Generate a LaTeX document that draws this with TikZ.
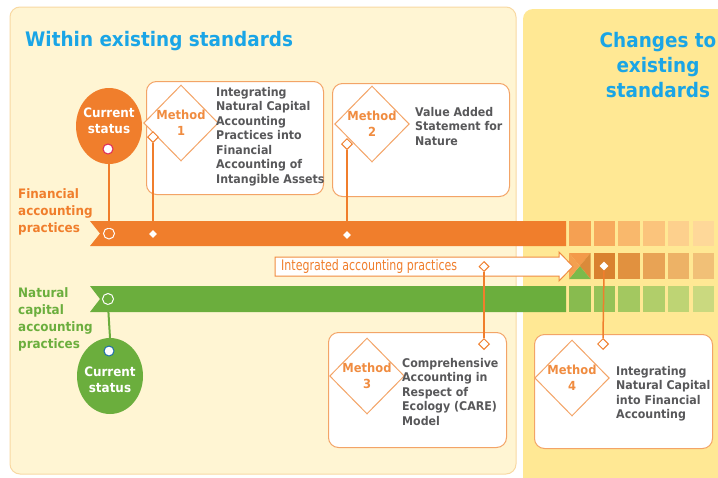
\documentclass[tikz,border=0pt]{standalone}
\usepackage{fontspec}
\setmainfont{DejaVu Sans}
\newfontfamily\boldfont[FakeStretch=0.92]{DejaVu Sans Bold}
\newfontfamily\narrowfont[FakeStretch=0.76]{DejaVu Sans}
\usetikzlibrary{shapes.geometric,positioning}

\definecolor{titleblue}{HTML}{1AA5E6}
\definecolor{barorange}{HTML}{F07E2C}
\definecolor{bargreen}{HTML}{6BAE3D}
\definecolor{methodorange}{HTML}{F08C40}
\definecolor{boxline}{HTML}{F3A467}
\definecolor{greytext}{HTML}{58585A}
\definecolor{creampanel}{HTML}{FFF5D3}
\definecolor{creamline}{HTML}{F8D9A3}
\definecolor{yellowpanel}{HTML}{FFE894}
\definecolor{darksquare}{HTML}{D9822F}

\begin{document}
\begin{tikzpicture}[x=1pt,y=-1pt,
  methodbox/.style={draw=boxline, line width=1pt, fill=white, rounded corners=10pt, anchor=north west, inner sep=0pt},
  methoddiamond/.style={diamond, draw=boxline, line width=1pt, fill=white, minimum width=64pt, minimum height=76pt,
    inner sep=0pt, text=methodorange, font=\boldfont\fontsize{12.5}{16}\selectfont, align=center},
  methodtext/.style={text=greytext, font=\boldfont\fontsize{12}{14.5}\selectfont, align=left, anchor=north west, inner sep=0pt},
  pindiamond/.style={diamond, draw=barorange, fill=white, line width=1pt, minimum size=11pt, inner sep=0pt},
  bardot/.style={diamond, fill=white, minimum size=8pt, inner sep=0pt},
  barring/.style={circle, draw=white, line width=1pt, minimum size=11pt, inner sep=0pt},
  status/.style={ellipse, minimum width=66pt, minimum height=76pt, inner sep=0pt},
  statustext/.style={text=white, font=\boldfont\fontsize{13}{16}\selectfont, align=center, inner sep=0pt},
  rowlabel/.style={anchor=north west, align=left, font=\boldfont\fontsize{13}{17}\selectfont, inner sep=0pt},
  headline/.style={text=titleblue, font=\boldfont\fontsize{20}{25}\selectfont, inner sep=0pt}]
  \useasboundingbox (0,0) rectangle (718,477);
  \clip (0,0) rectangle (718,477);
  \fill[white] (0,0) rectangle (718,477);

  % the two panels
  \draw[fill=creampanel, draw=creamline, line width=1pt, rounded corners=10pt] (10,7) rectangle (516,474);
  \fill[yellowpanel, rounded corners=10pt] (523,9) rectangle (740,500);
  \node[headline, anchor=base west] (within) at (25,46) {Within existing standards};
  \node[headline, anchor=north, align=center] (changes) at (658,32) {Changes to\\existing\\standards};

  % bars
  \fill[barorange] (90,221) -- (566,221) -- (566,246) -- (90,246) -- (100,233.5) -- cycle;
  \fill[bargreen] (90,286) -- (566,286) -- (566,312) -- (90,312) -- (100,299) -- cycle;
  \foreach \i/\c in {0/F5A052,1/F7AA5D,2/F9B86C,3/FBC47C,4/FDD08D,5/FED899}{
    \definecolor{sq}{HTML}{\c}
    \fill[sq] ({569+24.7*\i},221) rectangle +(21.5,25);
  }
  \foreach \i/\c in {1/D9822F,2/E1913F,3/E8A355,4/EDB266,5/F1C077}{
    \definecolor{sq}{HTML}{\c}
    \fill[sq] ({569+24.7*\i},253) rectangle +(21.5,26);
  }
  \foreach \i/\c in {0/88BB4F,1/96C257,2/A3C860,3/B1CE6A,4/BED474,5/CAD97F}{
    \definecolor{sq}{HTML}{\c}
    \fill[sq] ({569+24.7*\i},286) rectangle +(21.5,26);
  }
  \fill[fill={rgb,255:red,243;green,154;blue,74}] (569,253) -- (590.5,253) -- (579.75,266) -- cycle;
  \fill[fill={rgb,255:red,218;green,138;blue,58}] (590.5,253) -- (590.5,279) -- (579.75,266) -- cycle;
  \fill[fill={rgb,255:red,123;green,186;blue,75}] (569,279) -- (590.5,279) -- (579.75,266) -- cycle;
  \fill[fill={rgb,255:red,243;green,160;blue,80}] (569,253) -- (569,279) -- (579.75,266) -- cycle;

  % arrow
  \draw[draw=methodorange, fill=white, line width=1pt] (275,257) -- (559,257) -- (559,252) -- (573,266.5)
    -- (559,281) -- (559,276) -- (275,276) -- cycle;
  \node[anchor=west, text=barorange, font=\narrowfont\fontsize{14.5}{16}\selectfont, inner sep=0pt]
    (integrated) at (281,266) {Integrated accounting practices};

  % row labels
  \node[rowlabel, text=barorange] (finlabel) at (18,188) {Financial\\accounting\\practices};
  \node[rowlabel, text=bargreen] (natlabel) at (18,287) {Natural\\capital\\accounting\\practices};

  % current status
  \node[status, fill=barorange] (finstatus) at (109,126) {};
  \node[statustext] (finstatustext) at (109,121) {Current\\status};
  \node[circle, draw={rgb,255:red,222;green,40;blue,90}, fill=white, line width=1pt, minimum size=10pt, inner sep=0pt]
    (findot) at (108,149) {};
  \node[barring] (finring) at (109,233.5) {};
  \draw[barorange, line width=2pt] (finstatus.south) -- (finring.north);

  \node[status, fill=bargreen] (natstatus) at (110,376) {};
  \node[statustext] (natstatustext) at (110,380) {Current\\status};
  \node[circle, draw={rgb,255:red,30;green,110;blue,170}, fill=white, line width=1pt, minimum size=10pt, inner sep=0pt]
    (natdot) at (109,351) {};
  \node[barring] (natring) at (108,299) {};
  \draw[bargreen, line width=2pt] (natring.south) -- (natstatus.north);

  % methods
  \node[methodbox, minimum width=177pt, minimum height=113pt] (box1) at (146,81) {};
  \node[methoddiamond] (m1) at (181,123) {Method\\1};
  \node[methodtext] (t1) at (216,87) {Integrating\\Natural Capital\\Accounting\\Practices into\\Financial\\Accounting of\\Intangible Assets};

  \node[methodbox, minimum width=177pt, minimum height=113pt] (box2) at (332,83) {};
  \node[methoddiamond] (m2) at (372,124) {Method\\2};
  \node[methodtext] (t2) at (415,107) {Value Added\\Statement for\\Nature};

  \node[methodbox, minimum width=178pt, minimum height=115pt] (box3) at (328,332) {};
  \node[methoddiamond] (m3) at (367,376) {Method\\3};
  \node[methodtext] (t3) at (402,358) {Comprehensive\\Accounting in\\Respect of\\Ecology (CARE)\\Model};

  \node[methodbox, minimum width=178pt, minimum height=114pt] (box4) at (534,334) {};
  \node[methoddiamond] (m4) at (572,378) {Method\\4};
  \node[methodtext] (t4) at (616,366) {Integrating\\Natural Capital\\into Financial\\Accounting};

  % pins and marks
  \node[bardot] (mark1) at (153,234) {};
  \node[bardot] (mark2) at (347,235) {};
  \node[pindiamond, minimum size=10pt] (mark3) at (484,266.5) {};
  \node[bardot, minimum size=9pt] (mark4) at (604,266) {};
  \node[pindiamond] (pin1) at (153,137) {};
  \node[pindiamond] (pin2) at (347,144) {};
  \node[pindiamond] (pin3) at (484,344) {};
  \node[pindiamond] (pin4) at (603,344) {};
  \draw[barorange, line width=1.5pt] (pin1.south) -- (mark1.north);
  \draw[barorange, line width=1.5pt] (pin2.south) -- (mark2.north);
  \draw[barorange, line width=1.5pt] (pin3.north) -- (mark3.south);
  \draw[barorange, line width=1.5pt] (pin4.north) -- (mark4.south);
\end{tikzpicture}
\end{document}
